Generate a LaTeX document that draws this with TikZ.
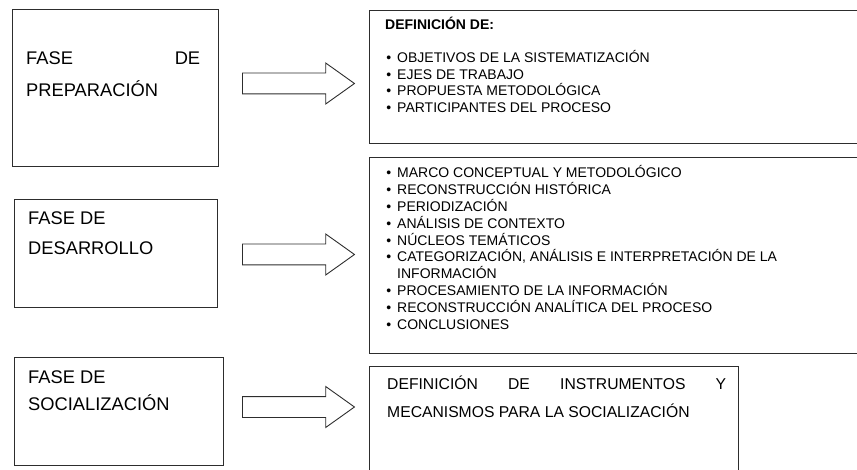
\documentclass[tikz,border=0pt]{standalone}
\usepackage{fontspec}
\setmainfont{Liberation Sans}
\usetikzlibrary{shapes.arrows}
\definecolor{boxline}{RGB}{45,45,45}
\newcommand{\itm}{\llap{\textbullet\hspace{6pt}}}

\begin{document}
\begin{tikzpicture}[x=1pt, y=-1pt,
    phase/.style={draw=boxline, line width=0.9pt, inner sep=0pt},
    fat/.style={single arrow, draw=boxline, line width=0.9pt, anchor=tail,
      inner xsep=0pt, inner ysep=10pt, minimum height=112pt,
      single arrow head extend=10pt, single arrow tip angle=71},
    big/.style={anchor=base west, inner sep=0pt, font=\fontsize{18.3}{20}\selectfont},
    mid/.style={anchor=base west, inner sep=0pt, font=\fontsize{15.7}{18}\selectfont},
    item/.style={anchor=base west, inner sep=0pt, font=\fontsize{14}{16}\selectfont}]
  \useasboundingbox (0,0) rectangle (857,470);
  \clip (0,0) rectangle (857,470);
  % Boxes
  \foreach \i/\x/\y/\w/\h in {1/115/87.5/206/157, 2/115.5/253/203/108, 3/118.5/411/209/108} {
    \node[phase, minimum width=\w pt, minimum height=\h pt] (f\i) at (\x,\y) {};
  }
  \foreach \i/\x/\y/\w/\h in {1/624.5/76.5/511/133, 2/624.5/255/511/196, 3/553.5/428/369/124} {
    \node[phase, minimum width=\w pt, minimum height=\h pt] (d\i) at (\x,\y) {};
  }
  % Arrows
  \foreach \i/\y in {1/83.5, 2/254.5, 3/407} {
    \node[fat] (a\i) at (242,\y) {};
  }
  % Phase labels
  \node[big] (t1) at (26,65) {\makebox[174pt]{FASE\hfill DE}};
  \node[big] (t2) at (26,97) {PREPARACIÓN};
  \node[big] (t3) at (28,225) {FASE DE};
  \node[big] (t4) at (28,255) {DESARROLLO};
  \node[big] (t5) at (28,383) {FASE DE};
  \node[big] (t6) at (28,410) {SOCIALIZACIÓN};
  % Lists
  \node[item, font=\fontsize{14}{16}\selectfont\bfseries] (h1) at (385,30) {DEFINICIÓN DE:};
  \foreach \t [count=\k] in {{\itm OBJETIVOS DE LA SISTEMATIZACIÓN}, {\itm EJES DE TRABAJO},
      {\itm PROPUESTA METODOLÓGICA}, {\itm PARTICIPANTES DEL PROCESO}} {
    \node[item] (p\k) at (397,{63+16.5*(\k-1)}) {\t};
  }
  \foreach \t [count=\k] in {{\itm MARCO CONCEPTUAL Y METODOLÓGICO}, {\itm RECONSTRUCCIÓN HISTÓRICA},
      {\itm PERIODIZACIÓN}, {\itm ANÁLISIS DE CONTEXTO}, {\itm NÚCLEOS TEMÁTICOS},
      {\itm CATEGORIZACIÓN, ANÁLISIS E INTERPRETACIÓN DE LA}, {INFORMACIÓN},
      {\itm PROCESAMIENTO DE LA INFORMACIÓN}, {\itm RECONSTRUCCIÓN ANALÍTICA DEL PROCESO},
      {\itm CONCLUSIONES}} {
    \node[item] (q\k) at (397,{178+16.8*(\k-1)}) {\t};
  }
  \node[mid] (s1) at (387,389) {\makebox[339pt]{DEFINICIÓN\hfill DE\hfill INSTRUMENTOS\hfill Y}};
  \node[mid] (s2) at (387,417) {MECANISMOS PARA LA SOCIALIZACIÓN};
\end{tikzpicture}
\end{document}
